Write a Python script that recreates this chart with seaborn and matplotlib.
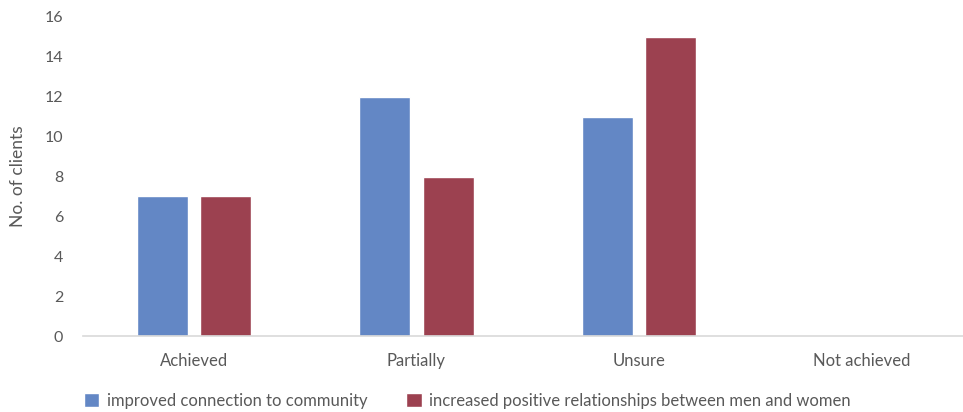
import pandas as pd
import numpy as np
import seaborn as sns
import matplotlib.pyplot as plt

categories = ['Achieved', 'Partially', 'Unsure', 'Not achieved']
series_names = ['improved connection to community',
                'increased positive relationships between men and women']
community = [7, 12, 11, 0]
relationships = [7, 8, 15, 0]
y_ticks = [0, 2, 4, 6, 8, 10, 12, 14, 16]

df = pd.DataFrame({
    'category': categories * 2,
    'series': [series_names[0]] * 4 + [series_names[1]] * 4,
    'clients': community + relationships,
})

sns.set_style('white')
plt.rcParams['font.family'] = ['Lato', 'DejaVu Sans']
text_color = '#595959'

fig = plt.figure(figsize=(9.63, 4.12), dpi=100)
ax = fig.add_axes([0.086, 0.184, 0.924, 0.775])
sns.barplot(data=df, x='category', y='clients', hue='series',
            palette=['#6387C5', '#9C4150'], width=0.57, gap=0.19,
            saturation=1, ax=ax)

ax.set_ylim(0, 16)
ax.set_yticks(y_ticks)
ax.set_xlim(-0.5, 3.5)
for s in ['top', 'right', 'left']:
    ax.spines[s].set_visible(False)
ax.spines['bottom'].set_color('#D9D9D9')
ax.spines['bottom'].set_linewidth(1.2)
ax.tick_params(axis='both', length=0, labelsize=12, colors=text_color, pad=12)
ax.tick_params(axis='y', labelsize=11.5, pad=14)
ax.set_xlabel('')
ax.set_ylabel('No. of clients', fontsize=12.5, color=text_color)
ax.yaxis.set_label_coords(-0.064, 0.5)

handles, labels = ax.get_legend_handles_labels()
ax.legend(handles, labels, loc='lower left', bbox_to_anchor=(-0.016, -0.275),
          ncol=2, frameon=False, fontsize=12, handlelength=0.95,
          handleheight=0.95, handletextpad=0.45, columnspacing=2.3,
          labelcolor=text_color)

plt.savefig('out.png', dpi=100)
plt.close()
